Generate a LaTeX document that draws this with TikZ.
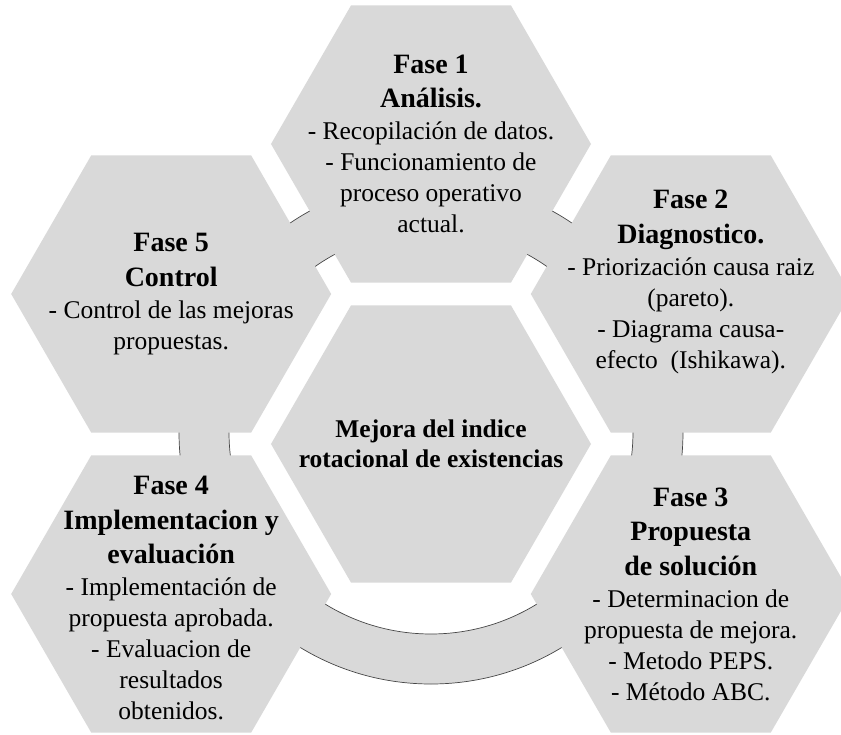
\documentclass[tikz,border=0pt]{standalone}
\usepackage{fontspec}
\setmainfont{Liberation Serif}

\definecolor{hexgray}{RGB}{217,217,217}
\definecolor{ringedge}{RGB}{70,70,70}

\newcommand{\fasehead}[1]{{\fontsize{28}{34}\selectfont\bfseries #1}}

\tikzset{
	phasetext/.style={align=center, inner sep=0pt, font=\fontsize{25.5}{31}\selectfont},
	ring/.style={fill=hexgray, draw=ringedge, line width=0.7pt, even odd rule},
}

\begin{document}
\begin{tikzpicture}[x=100pt, y=100pt]
		\useasboundingbox (-4.31, -2.90) rectangle (4.10, 4.44);
		\clip (-4.31, -2.90) rectangle (4.10, 4.44);

		% centres of the six hexagons
		\coordinate (mid) at (0, 0);
		\coordinate (f1) at (90:3);
		\coordinate (f2) at (30:3);
		\coordinate (f3) at (-30:3);
		\coordinate (f4) at (-150:3);
		\coordinate (f5) at (150:3);

		% ring behind the hexagons
		\filldraw[ring]	(0, 0.12) circle (2.52)
						(0, 0.12) circle (2.02);

		\foreach \c in {mid, f1, f2, f3, f4, f5}
			\fill[hexgray]	(\c) +(0:1.6) -- +(60:1.6) -- +(120:1.6) -- +(180:1.6)
							-- +(240:1.6) -- +(300:1.6) -- cycle;

		\node[phasetext, font=\fontsize{25.5}{30}\selectfont\bfseries] (tmid) at (mid)
			{Mejora del indice\\rotacional de existencias};

		\node[phasetext] (t1) at (f1)
			{\fasehead{Fase 1}\\[3.5pt]\fasehead{Análisis.}\\[1pt]- Recopilación de datos.\\- Funcionamiento de\\proceso operativo\\actual.};
		\node[phasetext, yshift=12pt] (t2) at (f2)
			{\fasehead{Fase 2}\\[3.5pt]\fasehead{Diagnostico.}\\[1pt]- Priorización causa raiz\\(pareto).\\- Diagrama causa-\\efecto~~(Ishikawa).};
		\node[phasetext] (t3) at (f3)
			{\fasehead{Fase 3}\\[3.5pt]\fasehead{Propuesta}\\[3.5pt]\fasehead{de solución}\\[1pt]- Determinacion de\\propuesta de mejora.\\- Metodo PEPS.\\- Método ABC.};
		\node[phasetext, yshift=-4pt] (t4) at (f4)
			{\fasehead{Fase 4}\\[3.5pt]\fasehead{Implementacion y}\\[3.5pt]\fasehead{evaluación}\\[1pt]- Implementación de\\propuesta aprobada.\\- Evaluacion de\\resultados\\obtenidos.};
		\node[phasetext] (t5) at (f5)
			{\fasehead{Fase 5}\\[3.5pt]\fasehead{Control}\\[1pt]- Control de las mejoras\\propuestas.};
	\end{tikzpicture}
\end{document}
